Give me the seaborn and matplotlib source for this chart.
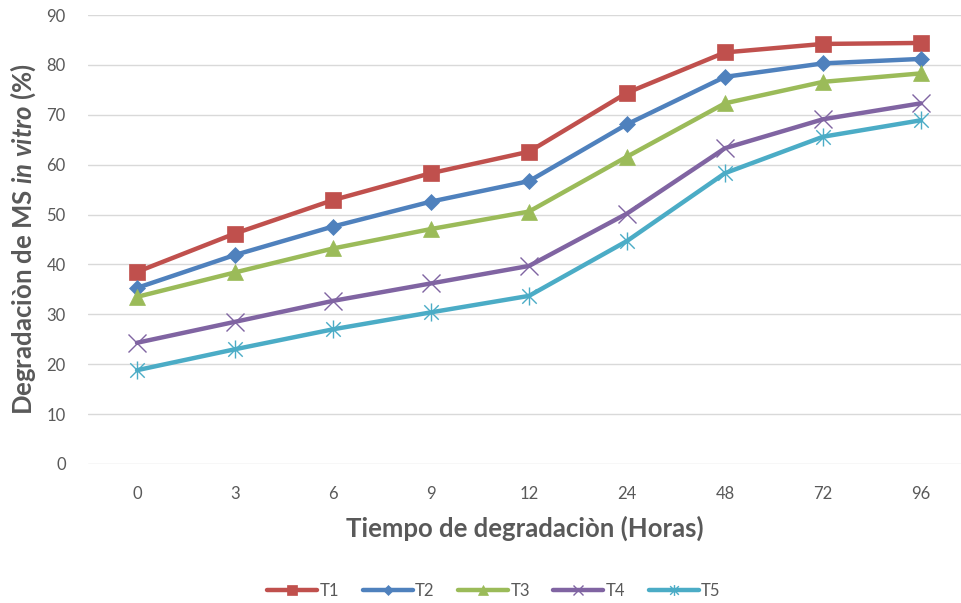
import matplotlib
matplotlib.use("Agg")
import matplotlib.pyplot as plt
import seaborn as sns
import pandas as pd
from matplotlib.path import Path

# Degradation time points (hours), shown as evenly spaced categories
hours = ["0", "3", "6", "9", "12", "24", "48", "72", "96"]

t1 = [38.5, 46.2, 52.9, 58.3, 62.6, 74.4, 82.5, 84.2, 84.4]
t2 = [35.3, 41.9, 47.6, 52.6, 56.7, 68.1, 77.6, 80.3, 81.2]
t3 = [33.5, 38.4, 43.2, 47.1, 50.6, 61.6, 72.3, 76.6, 78.3]
t4 = [24.3, 28.5, 32.7, 36.2, 39.7, 50.2, 63.3, 69.1, 72.3]
t5 = [18.8, 23.0, 27.0, 30.4, 33.7, 44.7, 58.3, 65.6, 68.9]

series_names = ["T1", "T2", "T3", "T4", "T5"]
series_values = [t1, t2, t3, t4, t5]

colors = ["#C0504D", "#4F81BD", "#9BBB59", "#8064A2", "#4BACC6"]

# Asterisk-style marker: an "x" crossed by a vertical stroke
star_path = Path(
    [(-1, -1), (1, 1), (-1, 1), (1, -1), (0, -1.25), (0, 1.25)],
    [Path.MOVETO, Path.LINETO, Path.MOVETO, Path.LINETO, Path.MOVETO, Path.LINETO],
)
markers = ["s", "D", "^", "x", star_path]
marker_sizes = [11, 8.5, 11, 13, 13]

sns.set_theme(style="white")
plt.rcParams["font.family"] = ["Lato", "DejaVu Sans"]
plt.rcParams["mathtext.fontset"] = "custom"
plt.rcParams["mathtext.it"] = "Lato:italic:bold"
plt.rcParams["mathtext.rm"] = "Lato:bold"

rows = []
for name, vals in zip(series_names, series_values):
    for i, v in enumerate(vals):
        rows.append({"pos": i, "valor": v, "serie": name})
df = pd.DataFrame(rows)

fig = plt.figure(figsize=(9.62, 6.03), dpi=100)
ax = fig.add_axes([88 / 962, (603 - 464) / 603, 1 - 88 / 962, (464 - 15) / 603])

for name, col, mk, ms in zip(series_names, colors, markers, marker_sizes):
    sub = df[df["serie"] == name]
    unfilled = mk == "x" or isinstance(mk, Path)
    sns.lineplot(
        data=sub, x="pos", y="valor", ax=ax, color=col, linewidth=3.2,
        marker=mk, markersize=ms, label=name,
        markerfacecolor="none" if unfilled else col,
        markeredgecolor=col,
        markeredgewidth=1.0 if unfilled else 0.5,
        zorder=3,
    )

ax.set_xlim(-0.5, -0.5 + (962 - 88) / 98)
ax.set_ylim(0, 90)
ax.set_yticks(range(0, 91, 10))
ax.set_xticks(range(len(hours)))
ax.set_xticklabels(hours)
ax.grid(axis="y", color="#D9D9D9", linewidth=1.0)
ax.set_axisbelow(True)
for s in ax.spines.values():
    s.set_visible(False)
ax.tick_params(axis="both", length=0, labelsize=12, colors="#595959")
ax.tick_params(axis="x", pad=16)
ax.tick_params(axis="y", pad=16)

ax.set_xlabel("Tiempo de degradaciòn (Horas)", fontsize=18.5, fontweight="bold",
              color="#595959", labelpad=10)
ax.set_ylabel(r"Degradaciòn de MS $\mathit{in\ vitro}$ (%)", fontsize=18.5,
              fontweight="bold", color="#595959", labelpad=6)

leg = ax.legend(loc="center", ncol=5, frameon=False, fontsize=12,
                handlelength=3.0, columnspacing=1.4, handletextpad=0.15,
                markerscale=0.6)
for t in leg.get_texts():
    t.set_color("#595959")
leg.set_bbox_to_anchor((494 / 962, 12 / 603), transform=fig.transFigure)

fig.savefig("out.png", dpi=100)
